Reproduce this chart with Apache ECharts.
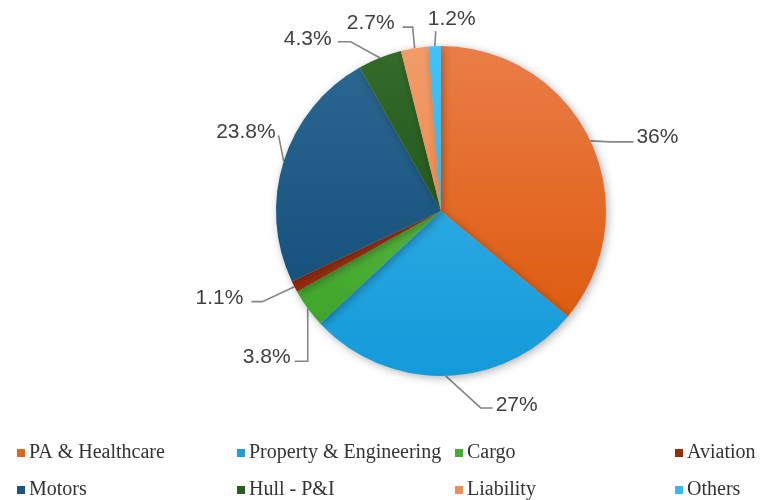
<!DOCTYPE html>
<html><head><meta charset="utf-8">
<script src="https://cdn.jsdelivr.net/npm/echarts@6/dist/echarts.min.js"></script>
<style>html,body{margin:0;padding:0;background:#fff}#c{width:771px;height:500px}</style>
</head><body><div id="c"></div>
<script>
var categories = ['PA & Healthcare','Property & Engineering','Cargo','Aviation','Motors','Hull - P&I','Liability','Others'];
var values = [36, 27, 3.8, 1.1, 23.8, 4.3, 2.7, 1.2];
var labelTexts = ['36%','27%','3.8%','1.1%','23.8%','4.3%','2.7%','1.2%'];
var colorsTop = ['#ea7d47','#2aa8e2','#55b43e','#a83614','#2a6690','#346a2a','#f29c6a','#42c2f7'];
var colorsBottom = ['#de5c10','#139ad8','#3ea42a','#922a0c','#17527c','#225a1c','#ee8c52','#30b6f0'];
var legendColors = ['#e0661e','#1e9fd9','#47ac34','#952c0e','#1a5480','#28601f','#ee8e58','#36b9f2'];

// label leader geometry, relative to the slice's edge point: [elbow dx,dy], [end dx,dy], [label dx,dy], align
var leader = [
  [[20,1],[43,1],[46,-4],'left'],
  [[35,32],[47,32],[50,29],'left'],
  [[0,53],[-13,53],[-17,49],'right'],
  [[-32,15],[-43,15],[-51,12],'right'],
  [[-5,-25],[-6,-25],[-8,-29],'right'],
  [[-29,-16],[-42,-16],[-48,-19],'right'],
  [[-2,-21],[-12,-21],[-20,-25],'right'],
  [[1,-15],[1,-15],[17,-27],'center']
];

var CX = 441, CY = 211, R = 165;
var total = values.reduce(function(a,b){return a+b;},0);
function edgePoint(i){
  var acc = 0; for (var k=0;k<i;k++) acc += values[k];
  var a = (acc + values[i]/2)/total*2*Math.PI;
  return [CX + R*Math.sin(a), CY - R*Math.cos(a)];
}

var data = categories.map(function(n,i){
  return {name:n, value:values[i],
    itemStyle:{color:new echarts.graphic.LinearGradient(0,0,0,1,[{offset:0,color:colorsTop[i]},{offset:1,color:colorsBottom[i]}])}};
});
var legendCols = [12, 232, 450, 670];
var legends = [];
categories.forEach(function(n,i){
  legends.push({
    data:[{name:n,itemStyle:{color:legendColors[i]}}],
    left: legendCols[i%4], top: i<4 ? 438 : 475,
    orient:'horizontal', icon:'rect', itemWidth:8, itemHeight:8, itemGap:4,
    selectedMode:false,
    textStyle:{fontFamily:'Liberation Serif', fontSize:20, color:'#333', padding:[0,0,0,-1]}
  });
});
var chart = echarts.init(document.getElementById('c'), null, {renderer:'canvas'});
chart.setOption({
  animation:false,
  legend: legends,
  series:[{
    type:'pie', center:[CX,CY], radius:R, startAngle:90, clockwise:true,
    data:data,
    avoidLabelOverlap:false,
    itemStyle:{shadowBlur:8, shadowColor:'rgba(0,0,0,0.3)', shadowOffsetX:2, shadowOffsetY:2},
    label:{show:true, position:'outside', fontFamily:'Liberation Sans', fontSize:21, color:'#404040',
      formatter:function(p){return labelTexts[p.dataIndex];}},
    labelLine:{show:true, length:20, length2:16, lineStyle:{color:'#858585', width:1.6}},
    labelLayout:function(p){
      var i = p.dataIndex, L = leader[i];
      var e = (p.labelLinePoints && p.labelLinePoints[0]) ? p.labelLinePoints[0] : edgePoint(i);
      return {
        x: e[0]+L[2][0], y: e[1]+L[2][1], align:L[3], verticalAlign:'middle',
        labelLinePoints:[[e[0],e[1]],[e[0]+L[0][0],e[1]+L[0][1]],[e[0]+L[1][0],e[1]+L[1][1]]]
      };
    },
    emphasis:{disabled:true}
  }]
});
</script></body></html>
